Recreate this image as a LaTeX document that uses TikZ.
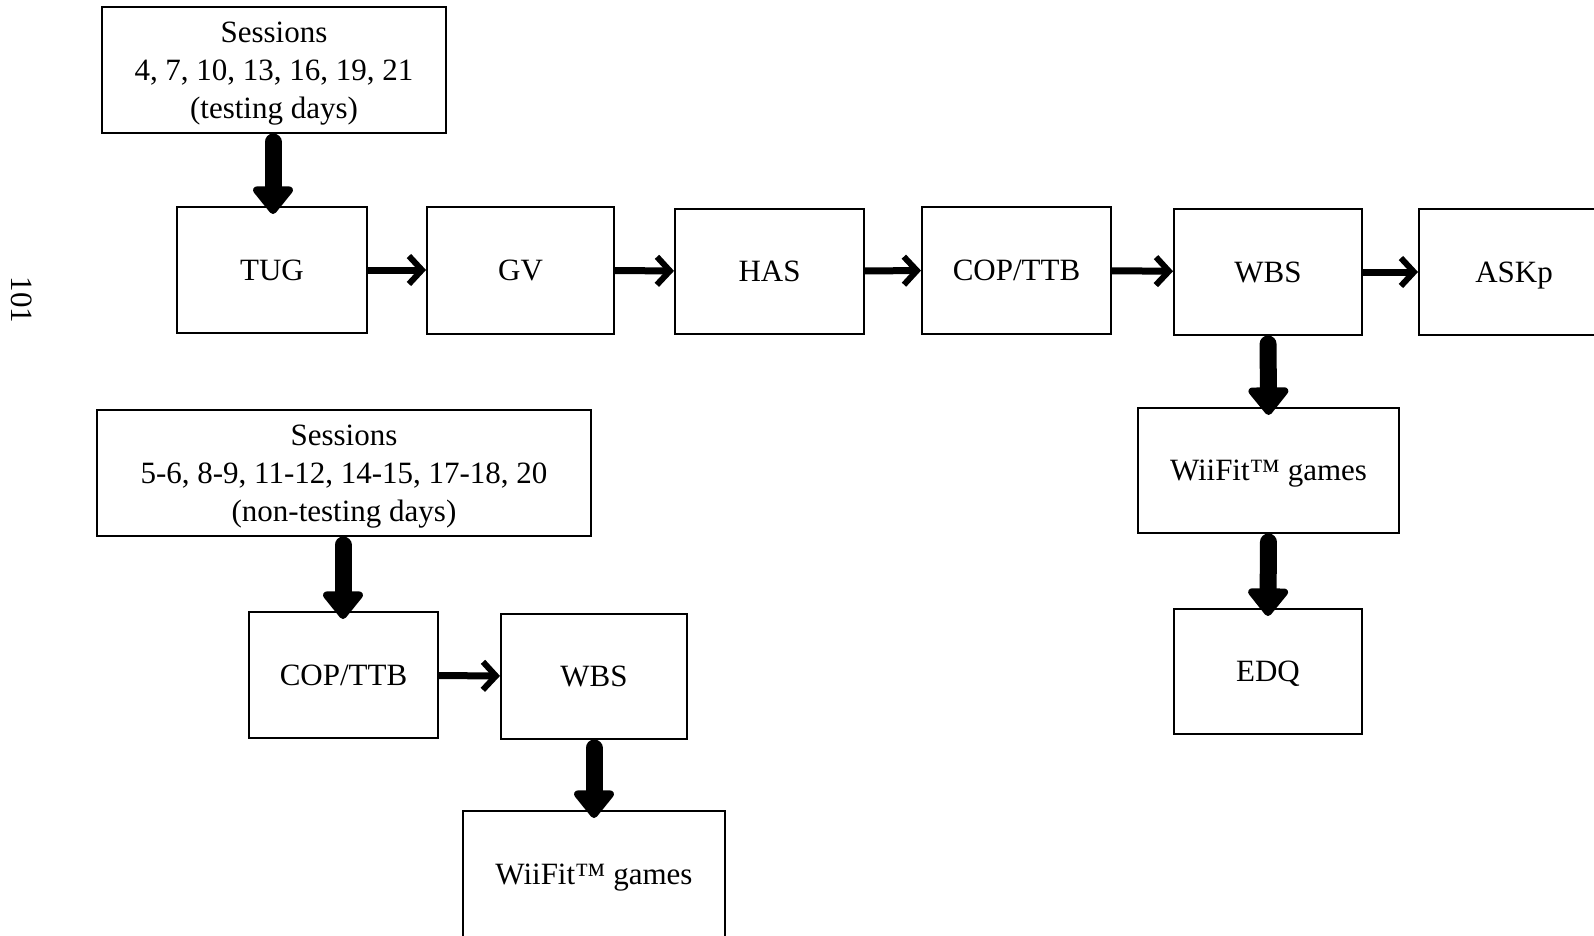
\documentclass[tikz,border=0pt]{standalone}
\usepackage{fontspec}
\setmainfont{Liberation Serif}
\usetikzlibrary{arrows.meta}
\begin{document}
\begin{tikzpicture}[x=1pt,y=-1pt,
  box/.style={draw,line width=2pt,rectangle,inner sep=0pt,align=center,
    font=\fontsize{31}{38}\selectfont,text depth=-4pt},
  thin/.style={line width=7pt,-{Straight Barb[length=13pt,width=28pt,line width=6pt]}},
  thick/.style={line width=17pt,line cap=round,shorten <=8pt,shorten >=-8pt,
    -{Triangle[round,length=30pt,width=46pt,line width=8pt]}}]
\useasboundingbox (0,0) rectangle (1594,936);
\begin{scope}
\clip (0,0) rectangle (1594,936);
\node[rotate=-90,font=\fontsize{31}{36}\selectfont] (pg) at (22,300) {101};
\node[box,minimum width=344pt,minimum height=126pt] (s1) at (274,70) {Sessions\\4, 7, 10, 13, 16, 19, 21\\(testing days)};
\node[box,minimum width=190pt,minimum height=126pt] (tug) at (272,270) {TUG};
\node[box,minimum width=187pt,minimum height=127pt] (gv) at (520.5,270) {GV};
\node[box,minimum width=189pt,minimum height=125pt] (has) at (769.5,271.5) {HAS};
\node[box,minimum width=189pt,minimum height=127pt] (cop) at (1016.5,270) {COP/TTB};
\node[box,minimum width=188pt,minimum height=126pt] (wbs) at (1268,272) {WBS};
\node[box,minimum width=190pt,minimum height=126pt] (askp) at (1514,272) {ASKp};
\node[box,minimum width=261pt,minimum height=125pt] (wii) at (1268.5,470.5) {WiiFit™ games};
\node[box,minimum width=188pt,minimum height=125pt] (edq) at (1268,671.5) {EDQ};
\node[box,minimum width=494pt,minimum height=126pt] (s2) at (344,473) {Sessions\\5-6, 8-9, 11-12, 14-15, 17-18, 20\\(non-testing days)};
\node[box,minimum width=189pt,minimum height=126pt] (cop2) at (343.5,675) {COP/TTB};
\node[box,minimum width=186pt,minimum height=125pt] (wbs2) at (594,676.5) {WBS};
\node[box,minimum width=262pt,minimum height=126pt] (wii2) at (594,874) {WiiFit™ games};
\draw[thin] (tug) -- (gv);
\draw[thin] (gv) -- (has);
\draw[thin] (has) -- (cop);
\draw[thin] (cop) -- (wbs);
\draw[thin] (wbs) -- (askp);
\draw[thin] (cop2) -- (wbs2);
\draw[thick] (s1.south) ++(-1,0) coordinate (a1) -- (a1 |- tug.north);
\draw[thick] (wbs.south) -- (wii.north);
\draw[thick] (wii.south) -- (edq.north);
\draw[thick] (s2.south) ++(-1,0) coordinate (a2) -- (a2 |- cop2.north);
\draw[thick] (wbs2.south) -- (wii2.north);
\end{scope}
\end{tikzpicture}
\end{document}
